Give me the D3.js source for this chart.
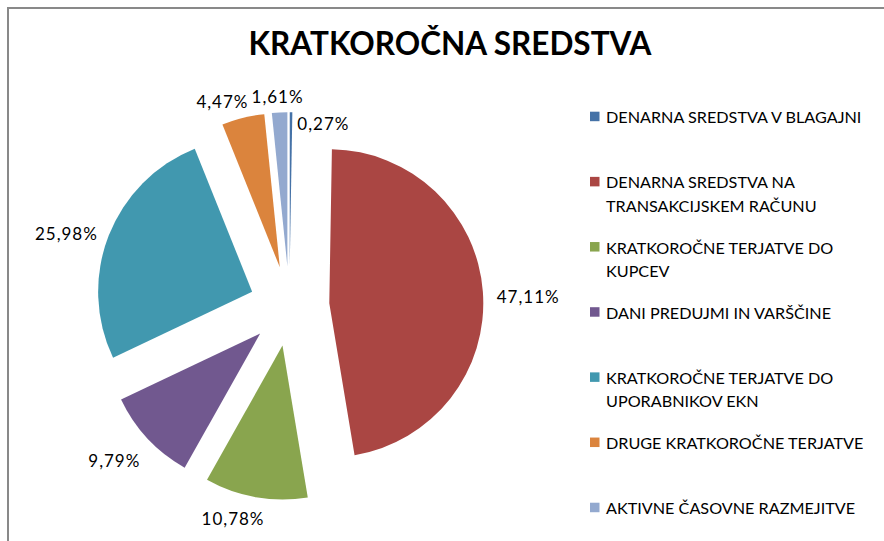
<!DOCTYPE html>
<html><head><meta charset="utf-8">
<script src="https://cdn.jsdelivr.net/npm/d3@7"></script>
<style>html,body{margin:0;padding:0;background:#fff}svg{display:block}</style>
</head><body>
<svg id="c" width="884" height="541"></svg>
<script>
const title = "KRATKOROČNA SREDSTVA";
const categories = [
  "DENARNA SREDSTVA V BLAGAJNI",
  "DENARNA SREDSTVA NA TRANSAKCIJSKEM RAČUNU",
  "KRATKOROČNE TERJATVE DO KUPCEV",
  "DANI PREDUJMI IN VARŠČINE",
  "KRATKOROČNE TERJATVE DO UPORABNIKOV EKN",
  "DRUGE KRATKOROČNE TERJATVE",
  "AKTIVNE ČASOVNE RAZMEJITVE"
];
const legendLines = [
  ["DENARNA SREDSTVA V BLAGAJNI"],
  ["DENARNA SREDSTVA NA", "TRANSAKCIJSKEM RAČUNU"],
  ["KRATKOROČNE TERJATVE DO", "KUPCEV"],
  ["DANI PREDUJMI IN VARŠČINE"],
  ["KRATKOROČNE TERJATVE DO", "UPORABNIKOV EKN"],
  ["DRUGE KRATKOROČNE TERJATVE"],
  ["AKTIVNE ČASOVNE RAZMEJITVE"]
];
const values = [0.27, 47.11, 10.78, 9.79, 25.98, 4.47, 1.61];
const valueLabels = ["0,27%", "47,11%", "10,78%", "9,79%", "25,98%", "4,47%", "1,61%"];
const colors = ["#4572A7", "#AA4643", "#89A54E", "#71588F", "#4198AF", "#DB843D", "#93A9CF"];
// label fine adjustments (dx, dy), separate from data
const labelNudge = [[32, 33], [0, 6], [-15, 0], [-4, 7], [0, 6], [-11, 5], [0, 6]];

const svg = d3.select("#c");
const W = 884, H = 541;
const FONT = "Lato, 'Open Sans', sans-serif";

// frame
svg.append("rect").attr("x", 8).attr("y", 8).attr("width", W).attr("height", H)
  .attr("fill", "none").attr("stroke", "#898989").attr("stroke-width", 2);

// title
svg.append("text").attr("x", 450).attr("y", 55).attr("text-anchor", "middle")
  .attr("font-family", FONT).attr("font-weight", "bold").attr("font-size", 31.5)
  .attr("fill", "#000").text(title);

const cx = 289.4, cy = 306.2, r = 154, explode = 40;
const pie = d3.pie().sort(null).value(d => d)(values);
const arc = d3.arc().innerRadius(0).outerRadius(r);
const g = svg.append("g").attr("transform", `translate(${cx},${cy})`);

g.selectAll("path").data(pie).join("path")
  .attr("d", arc)
  .attr("fill", (d, i) => colors[i])
  .attr("transform", d => {
    const a = (d.startAngle + d.endAngle) / 2;
    return `translate(${explode * Math.sin(a)},${-explode * Math.cos(a)})`;
  });

// labels
const gap = 14, lh = 16;
const lbl = g.selectAll("text.lbl").data(pie).join("text").attr("class", "lbl")
  .attr("font-family", FONT).attr("font-size", 17).attr("letter-spacing", 1)
  .attr("fill", "#000")
  .attr("text-anchor", "middle").attr("dominant-baseline", "central")
  .text((d, i) => valueLabels[i]);
lbl.each(function(d, i) {
  const a = (d.startAngle + d.endAngle) / 2;
  const dx = Math.sin(a), dy = -Math.cos(a);
  const w = this.getComputedTextLength();
  const R = explode + r + gap;
  const x = R * dx + dx * w / 2 + labelNudge[i][0];
  const y = R * dy + dy * lh / 2 + labelNudge[i][1];
  d3.select(this).attr("x", x).attr("y", y);
});

// legend
const legY0 = 116.7, legStep = 65.17, lineH = 23.3;
const leg = svg.append("g");
legendLines.forEach((lines, i) => {
  const y = legY0 + i * legStep;
  leg.append("rect").attr("x", 590).attr("y", y - 5).attr("width", 9.5).attr("height", 9.5)
    .attr("fill", colors[i]);
  const t = leg.append("text").attr("font-family", FONT).attr("font-size", 16.2)
    .attr("fill", "#000");
  lines.forEach((ln, j) => {
    t.append("tspan").attr("x", 606).attr("y", y + j * lineH)
      .attr("dominant-baseline", "central").text(ln);
  });
});
</script>
</body></html>
